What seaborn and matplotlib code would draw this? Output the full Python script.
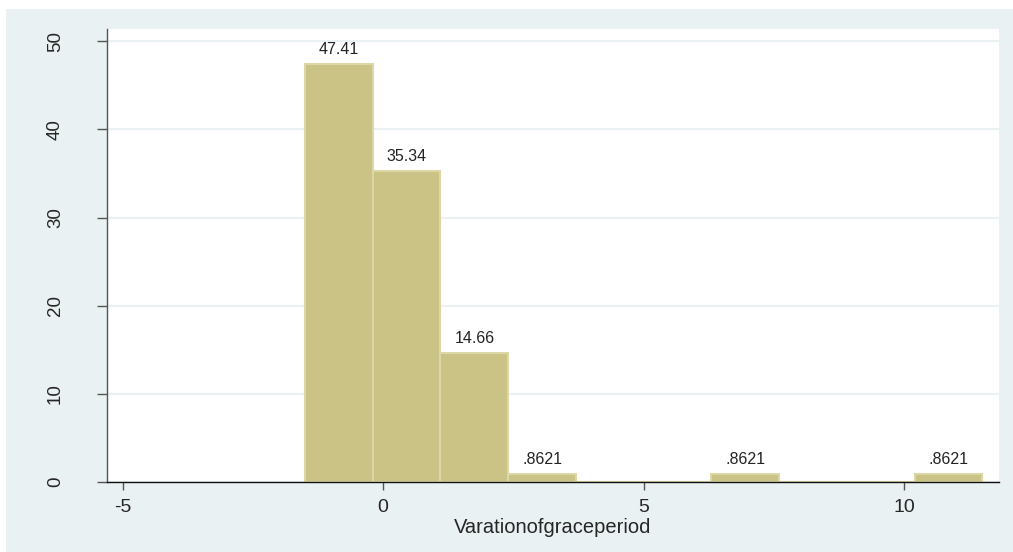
import numpy as np
import matplotlib
matplotlib.use('Agg')
import matplotlib.pyplot as plt
import seaborn as sns

# Stata-like histogram (percent), 116 obs, 10 bins from -1.5 to 11.5
bin_edges = [-1.5, -0.2, 1.1, 2.4, 3.7, 5.0, 6.3, 7.6, 8.9, 10.2, 11.5]
bin_mids = [-0.85, 0.45, 1.75, 3.05, 4.35, 5.65, 6.95, 8.25, 9.55, 10.85]
percents = [47.41, 35.34, 14.66, 0.8621, 0, 0, 0.8621, 0, 0, 0.8621]
bar_labels = ['47.41', '35.34', '14.66', '.8621', '', '', '.8621', '', '', '.8621']
x_ticks = [-5, 0, 5, 10]
y_ticks = [0, 10, 20, 30, 40, 50]
x_title = 'Varationofgraceperiod'

panel = '#EAF1F3'
bar_fill = '#CBC385'
bar_edge = '#DCD7A6'

sns.set_style('white')
plt.rcParams['font.family'] = ['Liberation Sans', 'DejaVu Sans']

fig = plt.figure(figsize=(10.13, 5.52), dpi=100, facecolor='white')
fig.patches.append(plt.Rectangle((6 / 1013, 0), 1, 1 - 9 / 552, transform=fig.transFigure,
                                 facecolor=panel, edgecolor='none', zorder=-10))
ax = fig.add_axes([107 / 1013, 1 - 482 / 552, 892 / 1013, 453 / 552])
ax.set_facecolor('white')

sns.histplot(x=bin_mids, weights=percents, bins=bin_edges, ax=ax,
             color=bar_fill, edgecolor=bar_edge, linewidth=1.5, alpha=1, zorder=2)

for m, p, lab in zip(bin_mids, percents, bar_labels):
    if lab:
        ax.annotate(lab, (m, p), xytext=(0, 5), textcoords='offset points',
                    ha='center', va='bottom', fontsize=11.5, color='#222222')

ax.set_xlim(-5.30, 11.82)
ax.set_ylim(0, 51.4)
ax.set_xticks(x_ticks)
ax.set_xticklabels([str(t) for t in x_ticks])
ax.set_yticks(y_ticks)
ax.set_yticklabels([str(t) for t in y_ticks], rotation=90, va='center')

ax.yaxis.grid(True, color=panel, linewidth=1.5, zorder=0)
ax.set_axisbelow(True)
for s in ['top', 'right']:
    ax.spines[s].set_visible(False)
ax.spines['left'].set_color('#555555')
ax.spines['bottom'].set_color('#111111')
ax.spines['left'].set_linewidth(1)
ax.spines['bottom'].set_linewidth(1)

ax.tick_params(axis='y', direction='out', length=7, width=1, color='#555555',
               pad=24, labelsize=13.5, left=True)
ax.tick_params(axis='x', direction='out', length=6, width=1, color='#555555',
               pad=6, labelsize=14, bottom=True)

ax.set_xlabel(x_title, fontsize=14.5, labelpad=2)
ax.set_ylabel('')

fig.savefig('out.png', dpi=100, facecolor=fig.get_facecolor())
